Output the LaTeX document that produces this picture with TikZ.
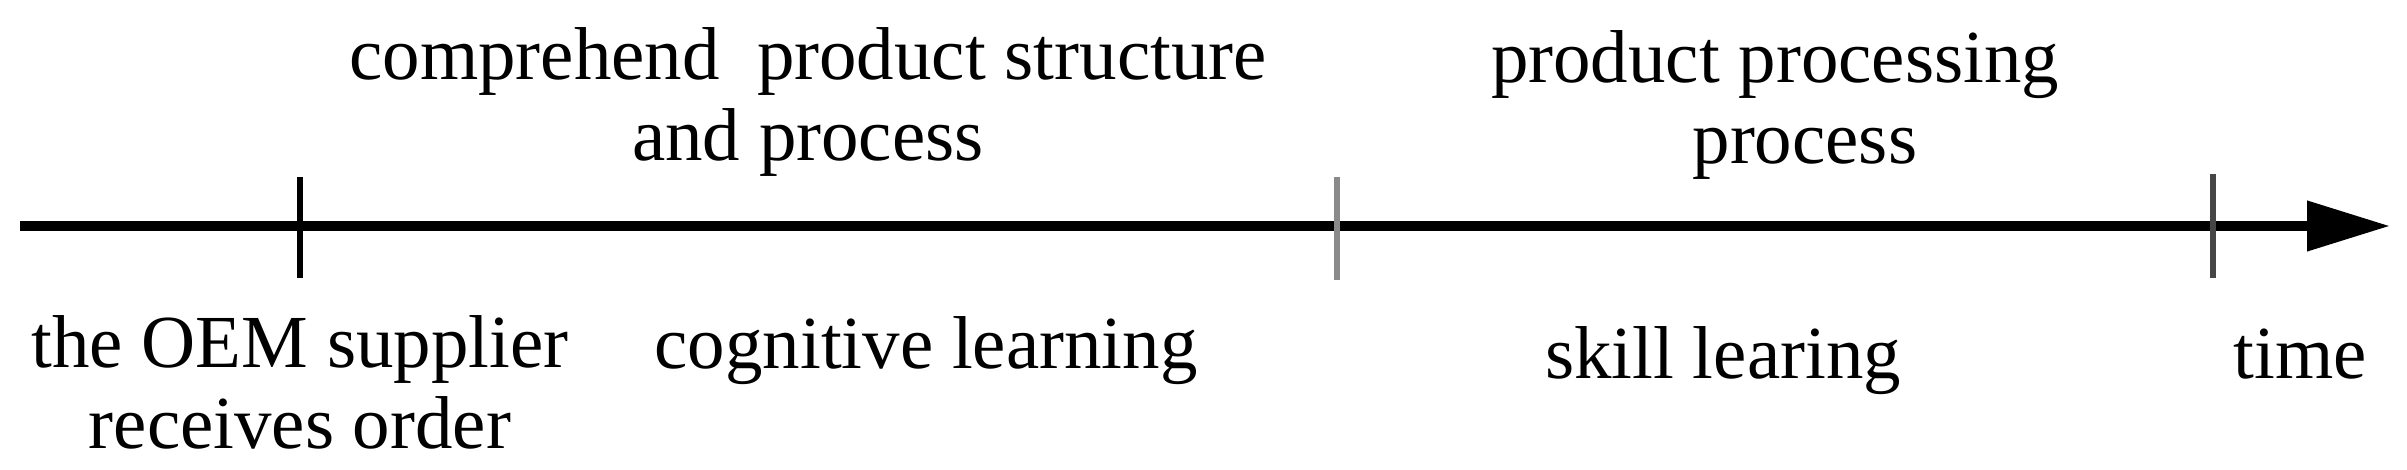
\documentclass[tikz,border=0pt]{standalone}
\usepackage{fontspec}
\setmainfont{Liberation Serif}
\usetikzlibrary{arrows.meta}
\begin{document}
\begin{tikzpicture}[x=0.01cm,y=-0.01cm,
  lbl/.style={inner sep=0pt, align=center, font=\fontsize{21.3pt}{23pt}\selectfont, anchor=base},
  tickmark/.style={line width=1.45pt},
  axisline/.style={line width=2.85pt, -{Triangle[length=23.6pt,width=13.7pt]}}]
\useasboundingbox (0,0) rectangle (2407,470);
% axis
\coordinate (start) at (20,226);
\coordinate (end) at (2390,226);
\draw[axisline] (start) -- (end);
% ticks
\coordinate (t1a) at (300,177); \coordinate (t1b) at (300,278);
\coordinate (t2a) at (1337,177); \coordinate (t2b) at (1337,280);
\coordinate (t3a) at (2213,174); \coordinate (t3b) at (2213,278);
\draw[tickmark] (t1a) -- (t1b);
\draw[tickmark, color={rgb,255:red,138;green,138;blue,138}] (t2a) -- (t2b);
\draw[tickmark, color={rgb,255:red,70;green,70;blue,70}] (t3a) -- (t3b);
% labels (base anchor = baseline of the last line)
\node[lbl] (comp) at (808,160) {comprehend\hspace{0.25em} product structure\\and process};
\node[lbl] (ppp) at (1775,163) {product processing\\\hspace*{17pt}process};
\node[lbl] (oem) at (300,448) {the OEM supplier\\receives order};
\node[lbl] (cog) at (926,368) {cognitive learning};
\node[lbl] (skill) at (1723,378) {skill learing};
\node[lbl] (time) at (2300,378) {time};
\end{tikzpicture}
\end{document}
